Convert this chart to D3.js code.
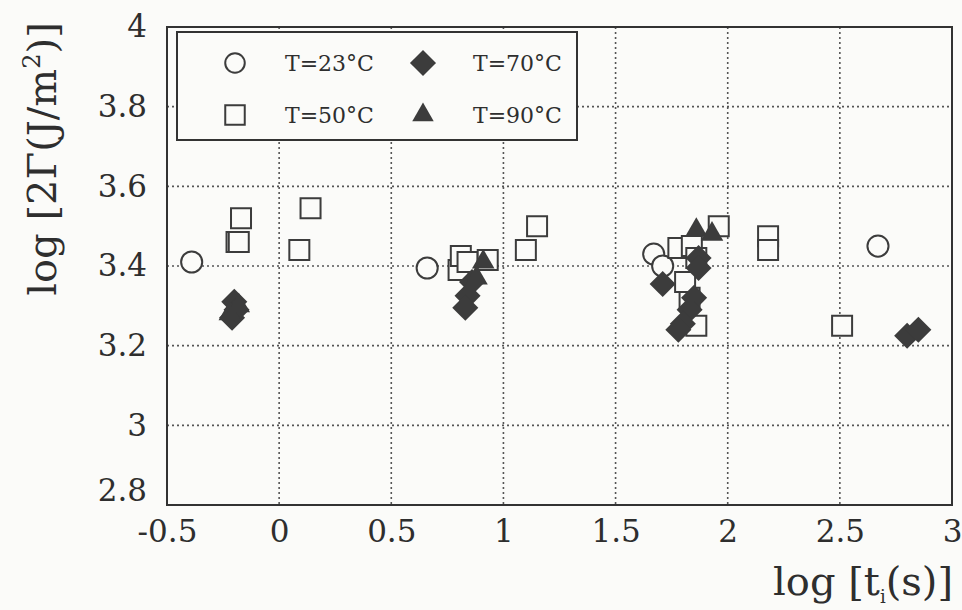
<!DOCTYPE html>
<html lang="en">
<head>
<meta charset="utf-8">
<title>log 2Gamma vs log t</title>
<script src="https://cdn.jsdelivr.net/npm/d3@7"></script>
<style>
  body { margin: 0; background: #fbfbf9; }
  text { font-family: "DejaVu Serif", serif; fill: #2e2e2e; }
</style>
</head>
<body>
<svg width="962" height="610"></svg>
<script>
// data: [log t, log 2Gamma]
var t23 = [[-0.39, 3.41], [0.66, 3.395], [1.67, 3.43], [1.71, 3.40], [2.67, 3.45]];
var t50 = [[-0.17, 3.52], [-0.19, 3.46], [-0.18, 3.46], [0.14, 3.545], [0.09, 3.44],
           [0.80, 3.39], [0.81, 3.425], [0.84, 3.41], [0.93, 3.415], [1.10, 3.44], [1.15, 3.50],
           [1.78, 3.445], [1.84, 3.45], [1.86, 3.42], [1.83, 3.32], [1.81, 3.36], [1.86, 3.25],
           [1.96, 3.50], [2.18, 3.475], [2.18, 3.44], [2.51, 3.25]];
var t70 = [[-0.2, 3.31], [-0.21, 3.27], [-0.19, 3.29],
           [0.86, 3.36], [0.84, 3.325], [0.83, 3.295],
           [1.87, 3.42], [1.87, 3.395], [1.71, 3.355], [1.85, 3.32], [1.83, 3.29], [1.80, 3.255], [1.78, 3.24],
           [2.80, 3.225], [2.85, 3.24]];
var t90 = [[-0.22, 3.28], [-0.18, 3.30], [0.91, 3.41], [0.88, 3.37], [1.86, 3.49], [1.93, 3.48]];

var xTicks = [-0.5, 0, 0.5, 1, 1.5, 2, 2.5, 3];
var yTicks = [2.8, 3, 3.2, 3.4, 3.6, 3.8, 4];
var legendLabels = ["T=23°C", "T=50°C", "T=70°C", "T=90°C"];

var svg = d3.select("svg");
var x = d3.scaleLinear().domain([-0.5, 3]).range([167, 952]);
var y = d3.scaleLinear().domain([2.8, 4]).range([505, 27]);

// dotted grid
svg.append("g").selectAll("line")
   .data(xTicks.slice(1, -1))
   .enter().append("line")
   .attr("x1", function(d) { return x(d); })
   .attr("x2", function(d) { return x(d); })
   .attr("y1", y(4)).attr("y2", y(2.8))
   .attr("stroke", "#555").attr("stroke-width", 1.6).attr("stroke-dasharray", "2,3");
svg.append("g").selectAll("line")
   .data(yTicks.slice(1, -1))
   .enter().append("line")
   .attr("x1", x(-0.5)).attr("x2", x(3))
   .attr("y1", function(d) { return y(d); })
   .attr("y2", function(d) { return y(d); })
   .attr("stroke", "#555").attr("stroke-width", 1.6).attr("stroke-dasharray", "2,3");

// frame
svg.append("rect")
   .attr("x", x(-0.5)).attr("y", y(4))
   .attr("width", x(3) - x(-0.5)).attr("height", y(2.8) - y(4))
   .attr("fill", "none").attr("stroke", "#333").attr("stroke-width", 2);

// axes (labels only, no tick marks)
var xAxis = svg.append("g")
   .attr("transform", "translate(0," + y(2.8) + ")")
   .call(d3.axisBottom(x).tickValues(xTicks).tickSize(0).tickPadding(15)
           .tickFormat(function(d) { return d; }));
xAxis.select(".domain").remove();
xAxis.selectAll("text").attr("font-size", 31).attr("font-family", "DejaVu Serif").attr("fill", "#2e2e2e");

var yAxis = svg.append("g")
   .attr("transform", "translate(" + x(-0.5) + ",0)")
   .call(d3.axisLeft(y).tickValues(yTicks).tickSize(0).tickPadding(20)
           .tickFormat(function(d) { return d; }));
yAxis.select(".domain").remove();
yAxis.selectAll("text").attr("font-size", 31).attr("font-family", "DejaVu Serif").attr("fill", "#2e2e2e");
yAxis.selectAll(".tick").filter(function(d) { return d === 2.8; })
   .select("text").attr("dy", "-0.15em");

// axis titles
svg.append("text")
   .attr("transform", "translate(56,159) rotate(-90)")
   .attr("text-anchor", "middle")
   .attr("font-size", 40)
   .html('log [2Γ(J/m<tspan dy="-16" font-size="24">2</tspan><tspan dy="16">)]</tspan>');

svg.append("text")
   .attr("x", 953).attr("y", 595)
   .attr("text-anchor", "end")
   .attr("font-size", 40)
   .html('log [t<tspan dy="8" font-size="18">i</tspan><tspan dy="-8">(s)]</tspan>');

// marks
var ink = "#3c3c3c";
var g = svg.append("g");

g.selectAll(".c23").data(t23).enter().append("path")
 .attr("class", "c23")
 .attr("d", d3.symbol().type(d3.symbolCircle).size(350))
 .attr("transform", function(d) { return "translate(" + x(d[0]) + "," + y(d[1]) + ")"; })
 .attr("fill", "#fbfbf9").attr("stroke", ink).attr("stroke-width", 2);

g.selectAll(".s50").data(t50).enter().append("path")
 .attr("class", "s50")
 .attr("d", d3.symbol().type(d3.symbolSquare).size(400))
 .attr("transform", function(d) { return "translate(" + x(d[0]) + "," + y(d[1]) + ")"; })
 .attr("fill", "#fbfbf9").attr("stroke", ink).attr("stroke-width", 2);

g.selectAll(".d70").data(t70).enter().append("path")
 .attr("class", "d70")
 .attr("d", d3.symbol().type(d3.symbolSquare).size(340))
 .attr("transform", function(d) { return "translate(" + x(d[0]) + "," + y(d[1]) + ") rotate(45)"; })
 .attr("fill", ink);

g.selectAll(".t90").data(t90).enter().append("path")
 .attr("class", "t90")
 .attr("d", d3.symbol().type(d3.symbolTriangle).size(220))
 .attr("transform", function(d) { return "translate(" + x(d[0]) + "," + y(d[1]) + ")"; })
 .attr("fill", ink);

// legend
var legend = svg.append("g");
legend.append("rect")
   .attr("x", 177).attr("y", 32).attr("width", 400).attr("height", 108)
   .attr("fill", "#fbfbf9").attr("stroke", "#333").attr("stroke-width", 2);

var legendItems = [
  { label: legendLabels[0], sym: d3.symbolCircle, size: 300, fill: "#fbfbf9", stroke: ink, rot: 0, lx: 235, ty: 63 },
  { label: legendLabels[1], sym: d3.symbolSquare, size: 380, fill: "#fbfbf9", stroke: ink, rot: 0, lx: 235, ty: 115 },
  { label: legendLabels[2], sym: d3.symbolSquare, size: 340, fill: ink, stroke: "none", rot: 45, lx: 423, ty: 63 },
  { label: legendLabels[3], sym: d3.symbolTriangle, size: 200, fill: ink, stroke: "none", rot: 0, lx: 423, ty: 115 }
];
legendItems.forEach(function(it) {
  legend.append("path")
     .attr("d", d3.symbol().type(it.sym).size(it.size))
     .attr("transform", "translate(" + it.lx + "," + it.ty + ") rotate(" + it.rot + ")")
     .attr("fill", it.fill).attr("stroke", it.stroke).attr("stroke-width", 2);
  legend.append("text")
     .attr("x", it.lx + 50).attr("y", it.ty + 8)
     .attr("font-size", 22)
     .text(it.label);
});
</script>
</body>
</html>
